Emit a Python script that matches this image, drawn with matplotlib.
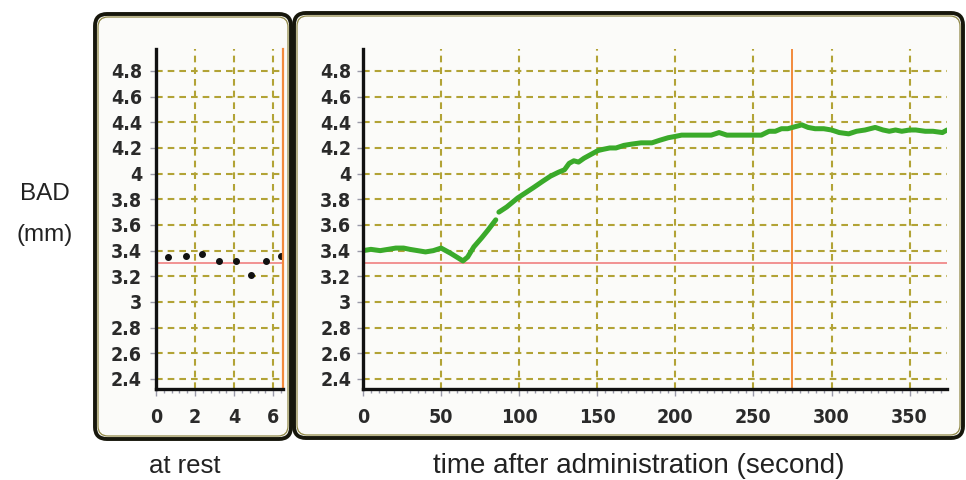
#Pupil diameter (BAD) at rest and after administration
import matplotlib
matplotlib.use('Agg')
import matplotlib.pyplot as plt
from matplotlib.patches import FancyBboxPatch
from matplotlib.ticker import MultipleLocator
import numpy as np

#Data: at rest (black dots)
rest_x = [0.62, 1.55, 2.33, 3.2, 4.1, 4.87, 5.65, 6.42]
rest_bad = [3.35, 3.36, 3.37, 3.32, 3.32, 3.21, 3.32, 3.36]

#Data: after administration (green trace), NaN marks the short gap
time_s = [0, 5, 11, 16, 21, 26, 30, 35, 40, 45, 50, 53, 56, 60, 64, 67, 71, 76, 80, 85,
          86,
          87, 92, 99, 104, 109, 115, 120, 125, 129, 132, 135, 138, 141.5, 146, 150.5, 154,
          158, 162, 167, 172, 178, 185, 190, 195.5, 200, 204, 210, 217, 223, 228, 233,
          238, 245, 250, 255, 260, 264, 268, 272, 275, 278, 281, 285, 289.5, 295, 300,
          305, 311, 316, 321.5, 328, 333, 337, 341, 345, 350, 354, 360, 365, 371, 374]
bad_mm = [3.40, 3.41, 3.40, 3.41, 3.42, 3.42, 3.41, 3.40, 3.39, 3.40, 3.42, 3.40, 3.38,
          3.35, 3.32, 3.35, 3.43, 3.50, 3.56, 3.64,
          np.nan,
          3.70, 3.74, 3.81, 3.85, 3.89, 3.94, 3.98, 4.01, 4.03, 4.08, 4.10, 4.09, 4.12,
          4.15, 4.18, 4.19, 4.20, 4.20, 4.22, 4.23, 4.24, 4.24, 4.26, 4.28, 4.29, 4.30,
          4.30, 4.30, 4.30, 4.32, 4.30, 4.30, 4.30, 4.30, 4.30, 4.33, 4.33, 4.35, 4.35,
          4.36, 4.37, 4.38, 4.36, 4.35, 4.35, 4.34, 4.32, 4.31, 4.33, 4.34, 4.36, 4.34,
          4.33, 4.34, 4.33, 4.34, 4.34, 4.33, 4.33, 4.32, 4.34]

baseline = 3.3
rest_marker = 6.5
post_marker = 275

y_ticks = [2.4, 2.6, 2.8, 3.0, 3.2, 3.4, 3.6, 3.8, 4.0, 4.2, 4.4, 4.6, 4.8]
y_labels = ['2.4', '2.6', '2.8', '3', '3.2', '3.4', '3.6', '3.8', '4', '4.2', '4.4', '4.6', '4.8']
rest_ticks = [0, 2, 4, 6]
post_ticks = [0, 50, 100, 150, 200, 250, 300, 350]

#Colours
grid_col = '#b2a336'
green = '#3aaa2a'
pink = '#f08a8a'
orange = '#f28a3c'

tick_font = dict(fontsize=14, fontweight='bold', fontstretch='condensed', color='#2a2a2a')

fig = plt.figure(figsize=(9.66, 4.8), dpi=100)
fig.patch.set_facecolor('white')

#Rounded frames (inch coords)
for x0, y0, w, h in [(0.95, 0.41, 1.96, 4.25), (2.94, 0.42, 6.69, 4.25)]:
    outer = FancyBboxPatch((x0, y0), w, h, boxstyle='round,pad=0,rounding_size=0.12',
                           transform=fig.dpi_scale_trans, facecolor='#fbfbf9',
                           edgecolor='#17170c', linewidth=2.8, zorder=-2)
    inner = FancyBboxPatch((x0 + 0.03, y0 + 0.03), w - 0.06, h - 0.06,
                           boxstyle='round,pad=0,rounding_size=0.10',
                           transform=fig.dpi_scale_trans, facecolor='none',
                           edgecolor='#8f8745', linewidth=0.9, zorder=-1)
    fig.add_artist(outer)
    fig.add_artist(inner)

ax0 = fig.add_axes([0.1615, 0.1896, 0.1315, 0.7083])
ax1 = fig.add_axes([0.3758, 0.1896, 0.6046, 0.7083])
ax0.set_xlim(0, 6.5)
ax1.set_xlim(0, 374)

for ax, xt, ypad in [(ax0, rest_ticks, 6), (ax1, post_ticks, 4.5)]:
    ax.set_facecolor('none')
    ax.set_ylim(2.322, 4.971)
    for s in ['top', 'right']:
        ax.spines[s].set_visible(False)
    for s in ['left', 'bottom']:
        ax.spines[s].set_linewidth(2.4)
        ax.spines[s].set_color('#111111')
        ax.spines[s].set_zorder(5)
    ax.tick_params(axis='both', which='major', direction='out', length=4, width=1,
                   color='#9a9aa8')
    ax.tick_params(axis='y', pad=ypad)
    ax.tick_params(axis='x', which='major', length=5, pad=9)
    ax.tick_params(axis='x', which='minor', direction='out', length=3, width=1,
                   color='#9a9aa8')
    ax.tick_params(axis='y', which='minor', left=False)
    ax.set_yticks(y_ticks)
    ax.set_yticklabels(y_labels, **tick_font)
    ax.set_xticks(xt)
    ax.set_xticklabels([str(v) for v in xt], **tick_font)
    ax.grid(True, which='major', color=grid_col, linestyle=(0, (3.2, 2.4)), linewidth=1.5)
    ax.axhline(baseline, color=pink, linewidth=1.3, zorder=3)

ax0.xaxis.set_minor_locator(MultipleLocator(0.4))
ax1.xaxis.set_minor_locator(MultipleLocator(5))

#at rest
ax0.plot(rest_x, rest_bad, 'o', color='#111111', markersize=4, zorder=4)
ax0.axvline(rest_marker, color=orange, linewidth=1.6, zorder=4, clip_on=False)

#after administration
ax1.plot(time_s, bad_mm, '-', color=green, linewidth=3.6, solid_capstyle='round',
         solid_joinstyle='round', zorder=4)
ax1.axvline(post_marker, color=orange, linewidth=1.4, zorder=3)

#Labels
fig.text(0.0466, 1 - 200 / 480, 'BAD', ha='center', va='baseline', fontsize=17.5,
         family='Liberation Sans', color='#222222')
fig.text(0.0466, 1 - 241 / 480, '(mm)', ha='center', va='baseline', fontsize=17.5,
         family='Liberation Sans', color='#222222')
fig.text(0.1915, 1 - 473 / 480, 'at rest', ha='center', va='baseline', fontsize=18.5,
         family='Liberation Sans', color='#222222')
fig.text(0.6615, 1 - 473 / 480, 'time after administration (second)', ha='center',
         va='baseline', fontsize=20, family='Liberation Sans', color='#222222')

plt.savefig('out.png', dpi=100)
